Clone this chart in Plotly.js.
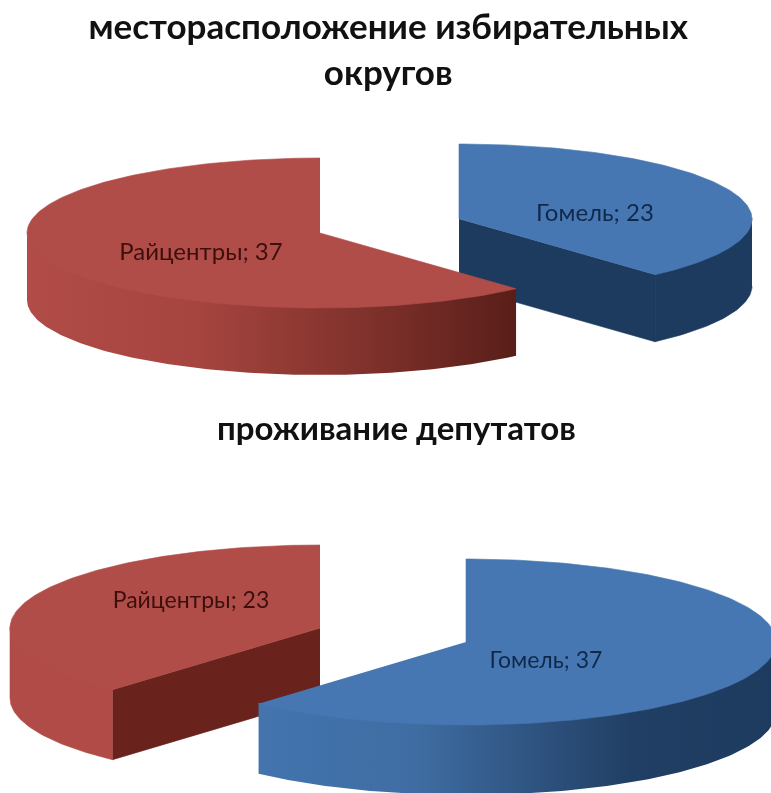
<!DOCTYPE html>
<html><head><meta charset="utf-8">
<script src="https://cdn.plot.ly/plotly-3.0.0.min.js"></script>
<style>html,body{margin:0;padding:0;background:#fff;overflow:hidden}#c{width:771px;height:793px}#c svg{filter:blur(0.7px)}</style>
</head><body><div id="c"></div>
<script>
// Data
const titleDistricts = 'месторасположение избирательных<br>округов';
const titleResidence = 'проживание депутатов';
const categories = ['Гомель', 'Райцентры'];
const valuesDistricts = [23, 37];
const valuesResidence = [37, 23];

// Layout of the two exploded pies (one placement per slice)
const pies = [
  { values: valuesDistricts, rx: 293, ry: 75, depth: 67, labelSize: 24,
    place: [{cx: 459, cy: 219, lx: 595, ly: 215}, {cx: 320, cy: 233, lx: 201, ly: 254}] },
  { values: valuesResidence, rx: 310, ry: 83, depth: 70, labelSize: 23,
    place: [{cx: 466, cy: 642, lx: 546, ly: 662}, {cx: 320, cy: 628, lx: 191, ly: 602}] }
];
const styles = [
  { top: '#4777b2', cut: '#1d3a5f', wall: [[0, '#4374ae'], [0.3, '#3f6da3'], [0.72, '#213f64'], [1, '#1d3a5f']], flat: '#1d3a5f', text: '#10294a' },
  { top: '#b14d49', cut: '#6a221d', wall: [[0, '#b14c48'], [0.35, '#a6443f'], [0.7, '#7f312b'], [1, '#591e19']], flat: '#b04b47', text: '#3d0f0c' }
];

const rad = d => d * Math.PI / 180;
function pt(p, o, a, dz) { return [o.cx + p.rx * Math.sin(rad(a)), o.cy - p.ry * Math.cos(rad(a)) + (dz || 0)]; }
function arc(p, o, a, b, dz) {
  const out = [], n = Math.max(2, Math.ceil(Math.abs(b - a)));
  for (let i = 0; i <= n; i++) out.push(pt(p, o, a + (b - a) * i / n, dz));
  return out;
}
function poly(points, extra) {
  return Object.assign({
    x: points.map(q => q[0]), y: points.map(q => q[1]),
    mode: 'lines', fill: 'toself', line: {width: 0}, hoverinfo: 'skip', showlegend: false
  }, extra);
}
function solid(points, colour) {
  return poly(points, {fillcolor: colour, line: {width: 0.6, color: colour}});
}

const traces = [];
pies.forEach(p => {
  const total = p.values.reduce((s, v) => s + v, 0);
  let start = 0;
  const slices = p.values.map((v, i) => {
    const s = {i, a: start, b: start + v / total * 360, o: p.place[i], st: styles[i]};
    start = s.b; return s;
  });
  slices.sort((m, n) => m.o.cy - n.o.cy);
  slices.forEach(s => {
    const c = [s.o.cx, s.o.cy], c2 = [s.o.cx, s.o.cy + p.depth];
    // cut walls
    if (Math.sin(rad(s.b)) > 0) {
      traces.push(solid([c, pt(p, s.o, s.b), pt(p, s.o, s.b, p.depth), c2], s.st.cut));
    }
    if (Math.sin(rad(s.a)) < 0) {
      traces.push(solid([c, pt(p, s.o, s.a), pt(p, s.o, s.a, p.depth), c2], s.st.cut));
    }
    // outer wall (front half only); its upper edge tucks under the top face
    const w0 = Math.max(s.a, 90), w1 = Math.min(s.b, 270);
    if (w1 > w0) {
      const pts = arc(p, s.o, w0, w1, -1).concat(arc(p, s.o, w1, w0, p.depth));
      traces.push((w1 - w0) > 100
        ? poly(pts, {fillgradient: {type: 'horizontal', colorscale: s.st.wall}})
        : solid(pts, s.st.flat));
    }
    // top face
    traces.push(solid([c].concat(arc(p, s.o, s.a, s.b, 0)), s.st.top));
  });
  // labels
  p.values.forEach((v, i) => {
    traces.push({
      x: [p.place[i].lx], y: [p.place[i].ly], mode: 'text',
      text: [categories[i] + '; ' + v], textposition: 'middle center',
      textfont: {family: 'Lato, sans-serif', size: p.labelSize, color: styles[i].text},
      hoverinfo: 'skip', showlegend: false
    });
  });
});

const hidden = {visible: false, fixedrange: true};
const layout = {
  width: 771, height: 793,
  margin: {l: 0, r: 0, t: 0, b: 0},
  paper_bgcolor: '#fff', plot_bgcolor: '#fff', showlegend: false,
  xaxis: Object.assign({range: [0, 771]}, hidden),
  yaxis: Object.assign({range: [793, 0]}, hidden),
  title: {text: '<b>' + titleDistricts + '</b>', x: 0.5035, xanchor: 'center',
          yref: 'container', y: 1 - 39 / 793, yanchor: 'middle',
          font: {family: 'Lato, sans-serif', size: 35, color: '#111'}},
  annotations: [{
    text: '<b>' + titleResidence + '</b>', x: 396, y: 427, xref: 'x', yref: 'y',
    showarrow: false, font: {family: 'Lato, sans-serif', size: 33, color: '#111'}
  }]
};
Plotly.newPlot('c', traces, layout, {displayModeBar: false, staticPlot: true});
</script></body></html>
